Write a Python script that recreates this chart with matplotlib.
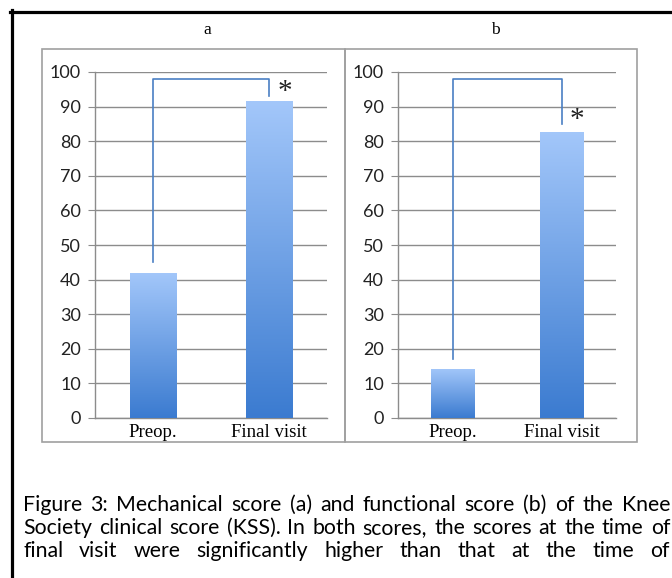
import matplotlib.pyplot as plt
import numpy as np
from matplotlib.patches import Rectangle
from matplotlib.lines import Line2D
from matplotlib.colors import LinearSegmentedColormap

# data
categories = ["Preop.", "Final visit"]
mechanical = [42, 91.5]      # panel a
functional = [14.2, 82.8]    # panel b
panel_titles = ["a", "b"]
# significance bracket: [start height, top, end height]
bracket_a = [45, 98, 93]
bracket_b = [17, 98, 85]
yticks = list(range(0, 101, 10))

caption_lines = [
    "Figure 3: Mechanical score (a) and functional score (b) of the Knee",
    "Society clinical score (KSS). In both scores, the scores at the time of",
    "final visit were significantly higher than that at the time of",
]

W, H = 672, 578
fig = plt.figure(figsize=(W / 100, H / 100), dpi=100)
fig.patch.set_facecolor("white")


def fx(px):
    return px / W


def fy(py):
    return 1 - py / H


GRID = "#8c8c8c"
bar_cmap = LinearSegmentedColormap.from_list("bars", ["#3b7bd0", "#a3c7fa"])


def draw_panel(ax, values, bracket):
    bars = ax.bar(range(len(values)), values, width=0.4, color="#6a9ee6", zorder=3)
    grad = np.linspace(0, 1, 256).reshape(-1, 1)
    for b in bars:
        im = ax.imshow(grad, cmap=bar_cmap, origin="lower", aspect="auto", zorder=3,
                       extent=[b.get_x(), b.get_x() + b.get_width(), 0, b.get_height()])
        im.set_clip_path(b)
    ax.set_xlim(-0.5, 1.5)
    ax.set_ylim(0, 100)
    ax.set_yticks(yticks)
    ax.yaxis.grid(True, color=GRID, lw=1)
    ax.set_axisbelow(True)
    for s in ["top", "right"]:
        ax.spines[s].set_visible(False)
    for s in ["left", "bottom"]:
        ax.spines[s].set_color(GRID)
        ax.spines[s].set_linewidth(1)
    ax.tick_params(axis="y", length=5, color=GRID, labelsize=13, pad=5, labelcolor="#222222")
    for lab in ax.get_yticklabels():
        lab.set_family("Lato")
    ax.set_xticks(range(len(categories)))
    ax.set_xticklabels(categories, family="Liberation Serif", fontsize=13.5)
    ax.tick_params(axis="x", length=0, pad=4)

    s, top, e = bracket
    ax.plot([0, 0, 1, 1], [s, top, top, e], color="#4a7fc4", lw=1.2, zorder=4,
            clip_on=False)
    ax.text(1.14, e + 1.2, "*", family="Liberation Serif", fontsize=21,
            ha="center", va="center", color="#222222")


ax_a = fig.add_axes([fx(95), fy(418), fx(327) - fx(95), (418 - 72) / H])
ax_b = fig.add_axes([fx(398), fy(418), fx(616) - fx(398), (418 - 72) / H])
draw_panel(ax_a, mechanical, bracket_a)
draw_panel(ax_b, functional, bracket_b)

# panel frames and titles
for x0, x1, title, tx in [(42, 345, panel_titles[0], 207), (345, 637, panel_titles[1], 495)]:
    fig.patches.append(Rectangle((fx(x0), fy(442)), fx(x1) - fx(x0), (442 - 49) / H,
                                 transform=fig.transFigure, fill=False,
                                 edgecolor="#a0a0a0", lw=1.2))
    fig.text(fx(tx), fy(30), title, family="Liberation Serif", fontsize=12.5,
             ha="center", va="center")

# outer black border
fig.lines.append(Line2D([fx(11.5), fx(11.5)], [fy(10), fy(580)], transform=fig.transFigure,
                        color="black", lw=2.3))
fig.lines.append(Line2D([fx(10), fx(680)], [fy(11.5), fy(11.5)], transform=fig.transFigure,
                        color="black", lw=2.3))

# justified caption
renderer = fig.canvas.get_renderer()


def justified(line, x0, x1, y, size):
    words = line.split()
    texts = [fig.text(0, fy(y), w, family="Lato", fontsize=size, va="baseline")
             for w in words]
    widths = [t.get_window_extent(renderer).width for t in texts]
    gap = (x1 - x0 - sum(widths)) / (len(words) - 1)
    x = x0
    for t, w in zip(texts, widths):
        t.set_x(fx(x))
        x += w + gap


for line, y in zip(caption_lines, [511, 534, 557]):
    justified(line, 23, 670, y, 15.3)

fig.savefig("out.png", dpi=100)
